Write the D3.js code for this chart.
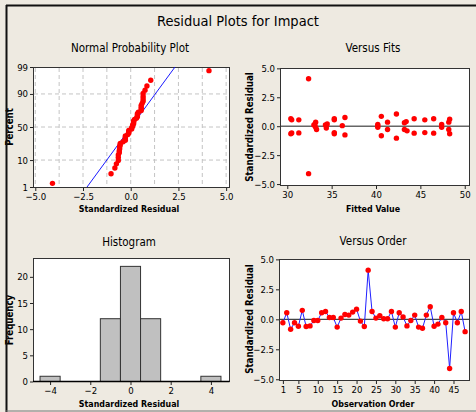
<!DOCTYPE html>
<meta charset="utf-8">
<style>
body { margin: 0; background: #EEEAE1; }
svg { display: block; }
text { font-family: "Liberation Sans Narrow", "DejaVu Sans Condensed", "Liberation Sans", sans-serif; fill: #000; }
.tick text { font-size: 9.5px; }
.tick line { stroke: #222; }
.axis path { display: none; }
.xlab { font-size: 8.8px; font-weight: bold; }
.ylab { font-size: 9.6px; font-weight: bold; }
.ptitle { font-size: 11.5px; }
.frame { fill: #fff; stroke: #333; stroke-width: 1; }
.grid { stroke: #c4c4c4; stroke-dasharray: 4,3; }
</style>
<body>
<script src="https://d3js.org/d3.v7.min.js"></script>
<script>
// standardized residuals in observation order
var residuals = [-0.28, 0.55, -0.83, -0.28, -0.58, 0.75, -0.6, -0.55, -0.1, -0.1,
                 0.55, 0.65, 0.15, 0.15, -0.65, 0.1, 0.4, 0.35, 0.6, 0.85,
                 -0.15, -0.6, 4.1, 0.65, 0.1, 0.3, 0.05, 0.05, 0.65, -0.65,
                 0.55, 0.2, -0.55, -0.1, 0.35, -0.65, -0.75, 0.35, 1.05, -0.58,
                 -0.4, 0.15, -0.28, -4.1, 0.55, -0.28, 0.65, -1.03];
// fitted values, same order
var fits = [48.2, 30.5, 40.6, 41.3, 30.5, 36.5, 44.3, 35.3, 33.2, 40.2,
            45.5, 30.4, 40.2, 47.4, 30.4, 34.3, 43.4, 41.3, 48.3, 40.6,
            34.4, 46.5, 32.4, 35.3, 33.0, 43.2, 36.2, 40.2, 44.3, 35.3,
            31.3, 34.5, 45.5, 47.4, 48.2, 48.3, 36.5, 33.2, 42.3, 31.3,
            43.5, 33.1, 33.3, 32.4, 35.3, 43.2, 46.5, 42.3];
var histCenters = [-4, -3, -2, -1, 0, 1, 2, 3, 4];
var histCounts = [1, 0, 0, 12, 22, 12, 0, 0, 1];
var probTicks = [1, 10, 50, 90, 99];
var residTicks = [-5, -2.5, 0, 2.5, 5];
var fitTicks = [30, 35, 40, 45, 50];
var histXTicks = [-4, -2, 0, 2, 4];
var histYTicks = [0, 5, 10, 15, 20];
var orderTicks = [1, 5, 10, 15, 20, 25, 30, 35, 40, 45];

// inverse normal cdf (Acklam)
function qnorm(p) {
  var a = [-39.69683028665376, 220.9460984245205, -275.9285104469687, 138.3577518672690, -30.66479806614716, 2.506628277459239],
      b = [-54.47609879822406, 161.5858368580409, -155.6989798598866, 66.80131188771972, -13.28068155288572],
      c = [-0.007784894002430293, -0.3223964580411365, -2.400758277161838, -2.549732539343734, 4.374664141464968, 2.938163982698783],
      d = [0.007784695709041462, 0.3224671290700398, 2.445134137142996, 3.754408661907416];
  var q, r;
  if (p < 0.02425) {
    q = Math.sqrt(-2 * Math.log(p));
    return (((((c[0]*q+c[1])*q+c[2])*q+c[3])*q+c[4])*q+c[5]) / ((((d[0]*q+d[1])*q+d[2])*q+d[3])*q+1);
  } else if (p > 1 - 0.02425) {
    q = Math.sqrt(-2 * Math.log(1 - p));
    return -(((((c[0]*q+c[1])*q+c[2])*q+c[3])*q+c[4])*q+c[5]) / ((((d[0]*q+d[1])*q+d[2])*q+d[3])*q+1);
  }
  q = p - 0.5; r = q * q;
  return (((((a[0]*r+a[1])*r+a[2])*r+a[3])*r+a[4])*r+a[5])*q / (((((b[0]*r+b[1])*r+b[2])*r+b[3])*r+b[4])*r+1);
}

var W = 476, H = 412;
var svg = d3.select("body").append("svg").attr("width", W).attr("height", H);
svg.append("rect").attr("width", W).attr("height", H).attr("fill", "#EEEAE1");

svg.append("text").attr("x", 238).attr("y", 26).attr("text-anchor", "middle")
  .style("font-size", "14.5px").text("Residual Plots for Impact");

function frame(x0, x1, y0, y1) {
  svg.append("rect").attr("class", "frame")
    .attr("x", x0 + 0.5).attr("y", y0 + 0.5).attr("width", x1 - x0).attr("height", y1 - y0);
}
function title(t, cx, y) {
  svg.append("text").attr("class", "ptitle").attr("x", cx).attr("y", y)
    .attr("text-anchor", "middle").text(t);
}
function xlabel(t, cx, y) {
  svg.append("text").attr("class", "xlab").attr("x", cx).attr("y", y)
    .attr("text-anchor", "middle").text(t);
}
function ylabel(t, x, cy) {
  svg.append("text").attr("class", "ylab")
    .attr("transform", "translate(" + x + "," + cy + ") rotate(-90)")
    .attr("text-anchor", "middle").text(t);
}
function xaxis(scale, y, vals, fmt) {
  svg.append("g").attr("class", "axis").attr("transform", "translate(0," + (y + 1) + ")")
    .call(d3.axisBottom(scale).tickValues(vals).tickFormat(fmt).tickSize(3).tickPadding(2));
}
function yaxis(scale, x, vals, fmt) {
  svg.append("g").attr("class", "axis").attr("transform", "translate(" + x + ",0)")
    .call(d3.axisLeft(scale).tickValues(vals).tickFormat(fmt).tickSize(3).tickPadding(2));
}
var f1 = d3.format(".1f");

// ---- Normal probability plot
var n = residuals.length;
var x1 = d3.scaleLinear().domain([-5.12, 5.15]).range([33, 229]);
var y1 = d3.scaleLinear().domain([qnorm(0.01), qnorm(0.99)]).range([187, 67]);
frame(33, 229, 67, 187);
var g1 = svg.append("g");
g1.selectAll(".vg").data(d3.range(-5, 5.01, 1.25)).enter().append("line").attr("class", "grid")
  .attr("x1", function(d) { return x1(d); }).attr("x2", function(d) { return x1(d); })
  .attr("y1", 68).attr("y2", 187);
g1.selectAll(".hg").data([10, 50, 90]).enter().append("line").attr("class", "grid")
  .attr("x1", 34).attr("x2", 229)
  .attr("y1", function(d) { return y1(qnorm(d / 100)); }).attr("y2", function(d) { return y1(qnorm(d / 100)); });
var mu = d3.mean(residuals), sd = d3.deviation(residuals);
g1.append("line").attr("stroke", "#0000ff").attr("stroke-width", 0.9)
  .attr("x1", x1(mu + sd * qnorm(0.01))).attr("y1", y1(qnorm(0.01)))
  .attr("x2", x1(mu + sd * qnorm(0.99))).attr("y2", y1(qnorm(0.99)));
var sorted = residuals.slice().sort(d3.ascending);
g1.selectAll("circle").data(sorted).enter().append("circle")
  .attr("cx", function(d) { return x1(d); })
  .attr("cy", function(d, i) { return y1(qnorm((i + 1 - 0.3) / (n + 0.4))); })
  .attr("r", 2.7).attr("fill", "#ff0000");
xaxis(x1, 187, residTicks, f1);
yaxis(y1, 33, probTicks.map(function(p) { return qnorm(p / 100); }), function(d, i) { return probTicks[i]; });
title("Normal Probability Plot", 130, 52);
xlabel("Standardized Residual", 129, 212);
ylabel("Percent", 12.5, 127);

// ---- Versus fits
var x2 = d3.scaleLinear().domain([29.18, 50.48]).range([280, 469]);
var y2 = d3.scaleLinear().domain([-5.08, 5.03]).range([185, 68]);
frame(280, 469, 68, 185);
svg.append("line").attr("x1", 281).attr("x2", 469).attr("y1", y2(0)).attr("y2", y2(0))
  .attr("stroke", "#666").attr("stroke-width", 1.4);
svg.append("g").selectAll("circle").data(residuals).enter().append("circle")
  .attr("cx", function(d, i) { return x2(fits[i]); })
  .attr("cy", function(d) { return y2(d); })
  .attr("r", 2.7).attr("fill", "#ff0000");
xaxis(x2, 185, fitTicks, d3.format("d"));
yaxis(y2, 280, residTicks, f1);
title("Versus Fits", 373, 52);
xlabel("Fitted Value", 373, 212);
ylabel("Standardized Residual", 252.5, 127);

// ---- Histogram
var x3 = d3.scaleLinear().domain([-4.85, 4.9]).range([33, 229]);
var y3 = d3.scaleLinear().domain([0, 23.6]).range([381.5, 258]);
frame(33, 229, 258, 381);
svg.append("g").selectAll("rect").data(histCounts).enter().append("rect")
  .attr("x", function(d, i) { return x3(histCenters[i] - 0.5); })
  .attr("width", function(d, i) { return x3(histCenters[i] + 0.5) - x3(histCenters[i] - 0.5); })
  .attr("y", function(d) { return y3(d); })
  .attr("height", function(d) { return y3(0) - y3(d); })
  .attr("fill", "#c0c0c0").attr("stroke", "#333").attr("stroke-width", 1)
  .style("display", function(d) { return d > 0 ? null : "none"; });
svg.append("line").attr("x1", 33).attr("x2", 229.5).attr("y1", 381.5).attr("y2", 381.5)
  .attr("stroke", "#000").attr("stroke-width", 1.5);
xaxis(x3, 381, histXTicks, d3.format("d"));
yaxis(y3, 33, histYTicks, d3.format("d"));
title("Histogram", 129, 246);
xlabel("Standardized Residual", 129, 407);
ylabel("Frequency", 13, 320);

// ---- Versus order
var x4 = d3.scaleLinear().domain([0, 49]).range([279, 469]);
var y4 = d3.scaleLinear().domain([-5.06, 5.03]).range([380, 259]);
frame(279, 469, 259, 380);
svg.append("line").attr("x1", 280).attr("x2", 469).attr("y1", y4(0)).attr("y2", y4(0))
  .attr("stroke", "#444").attr("stroke-width", 1.2);
svg.append("path").datum(residuals).attr("fill", "none").attr("stroke", "#2020ff").attr("stroke-width", 1)
  .attr("d", d3.line().x(function(d, i) { return x4(i + 1); }).y(function(d) { return y4(d); }));
svg.append("g").selectAll("circle").data(residuals).enter().append("circle")
  .attr("cx", function(d, i) { return x4(i + 1); })
  .attr("cy", function(d) { return y4(d); })
  .attr("r", 2.7).attr("fill", "#ff0000");
xaxis(x4, 380, orderTicks, d3.format("d"));
yaxis(y4, 279, residTicks, f1);
title("Versus Order", 373, 245);
xlabel("Observation Order", 373, 407);
ylabel("Standardized Residual", 252.5, 319);

// outer border
svg.append("line").attr("x1", 6).attr("x2", W).attr("y1", 5.5).attr("y2", 5.5)
  .attr("stroke", "#111").attr("stroke-width", 2);
svg.append("line").attr("x1", 6.5).attr("x2", 6.5).attr("y1", 5).attr("y2", H)
  .attr("stroke", "#111").attr("stroke-width", 2);
svg.append("line").attr("x1", 6).attr("x2", W).attr("y1", 411).attr("y2", 411)
  .attr("stroke", "#777").attr("stroke-width", 1);
</script>
